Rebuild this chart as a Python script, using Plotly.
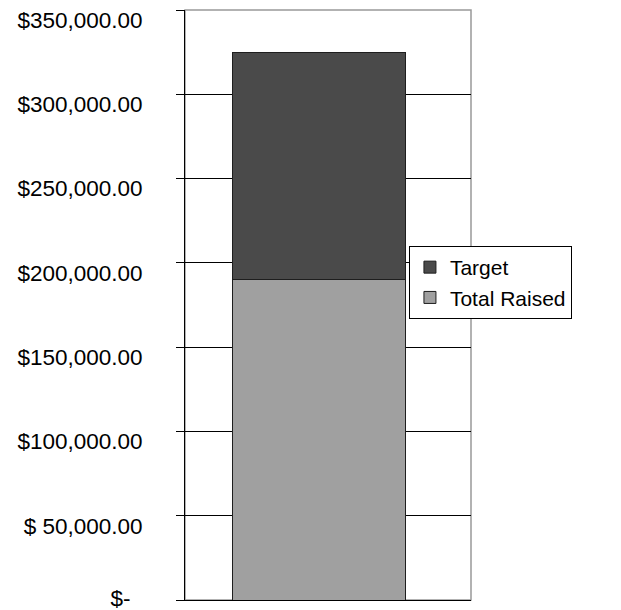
import plotly.graph_objects as go

categories = [""]
total_raised = [190000]
target = [135000]
tick_vals = [50000, 100000, 150000, 200000, 250000, 300000, 350000]
tick_text = ["$ 50,000.00", "$100,000.00", "$150,000.00", "$200,000.00",
             "$250,000.00", "$300,000.00", "$350,000.00"]
zero_tick_val = [0]
zero_tick_text = ["$-"]

fig = go.Figure()
fig.add_trace(go.Bar(x=categories, y=total_raised, name="Total Raised",
                     marker=dict(color="#a0a0a0", line=dict(color="#1e1e1e", width=1))))
fig.add_trace(go.Bar(x=categories, y=target, name="Target",
                     marker=dict(color="#4a4a4a", line=dict(color="#1e1e1e", width=1))))
# empty trace so the secondary axis (carrying only the "$-" label) is drawn
fig.add_trace(go.Scatter(x=[], y=[], xaxis="x", yaxis="y2", showlegend=False,
                         hoverinfo="skip"))

fig.update_layout(
    width=621, height=610,
    margin=dict(l=177, r=158, t=2, b=18),
    barmode="stack", bargap=0.395,
    plot_bgcolor="white", paper_bgcolor="white",
    font=dict(family="Liberation Sans", size=22.5, color="#000"),
    showlegend=True,
    legend=dict(x=0.783, y=0.6, xanchor="left", yanchor="top",
                traceorder="reversed", bgcolor="white",
                bordercolor="#000", borderwidth=1,
                font=dict(size=21)),
    shapes=[dict(type="rect", xref="paper", yref="paper", x0=0, x1=1, y0=0, y1=1,
                 line=dict(color="#999999", width=1.5), layer="below")],
    yaxis=dict(range=[0, 350000], tickvals=tick_vals, ticktext=tick_text,
               showgrid=True, gridcolor="#000", gridwidth=1,
               showline=True, linecolor="#000", linewidth=1,
               ticks="outside", ticklen=8, tickcolor="#000",
               ticklabelstandoff=29, ticklabelshift=10, zeroline=False,
               ticklabeloverflow="allow", automargin=False),
    yaxis2=dict(overlaying="y", side="left", anchor="x", range=[0, 350000],
                tickvals=zero_tick_val, ticktext=zero_tick_text,
                showgrid=False, showline=False, zeroline=False,
                ticks="outside", ticklen=8, tickcolor="#000",
                ticklabelstandoff=41, ticklabelshift=-2,
                ticklabeloverflow="allow", automargin=False),
    xaxis=dict(range=[-0.467, 0.533], showline=True, linecolor="#000", linewidth=1,
               showticklabels=False, ticks="", showgrid=False, automargin=False),
)

fig.write_html("out.html")
